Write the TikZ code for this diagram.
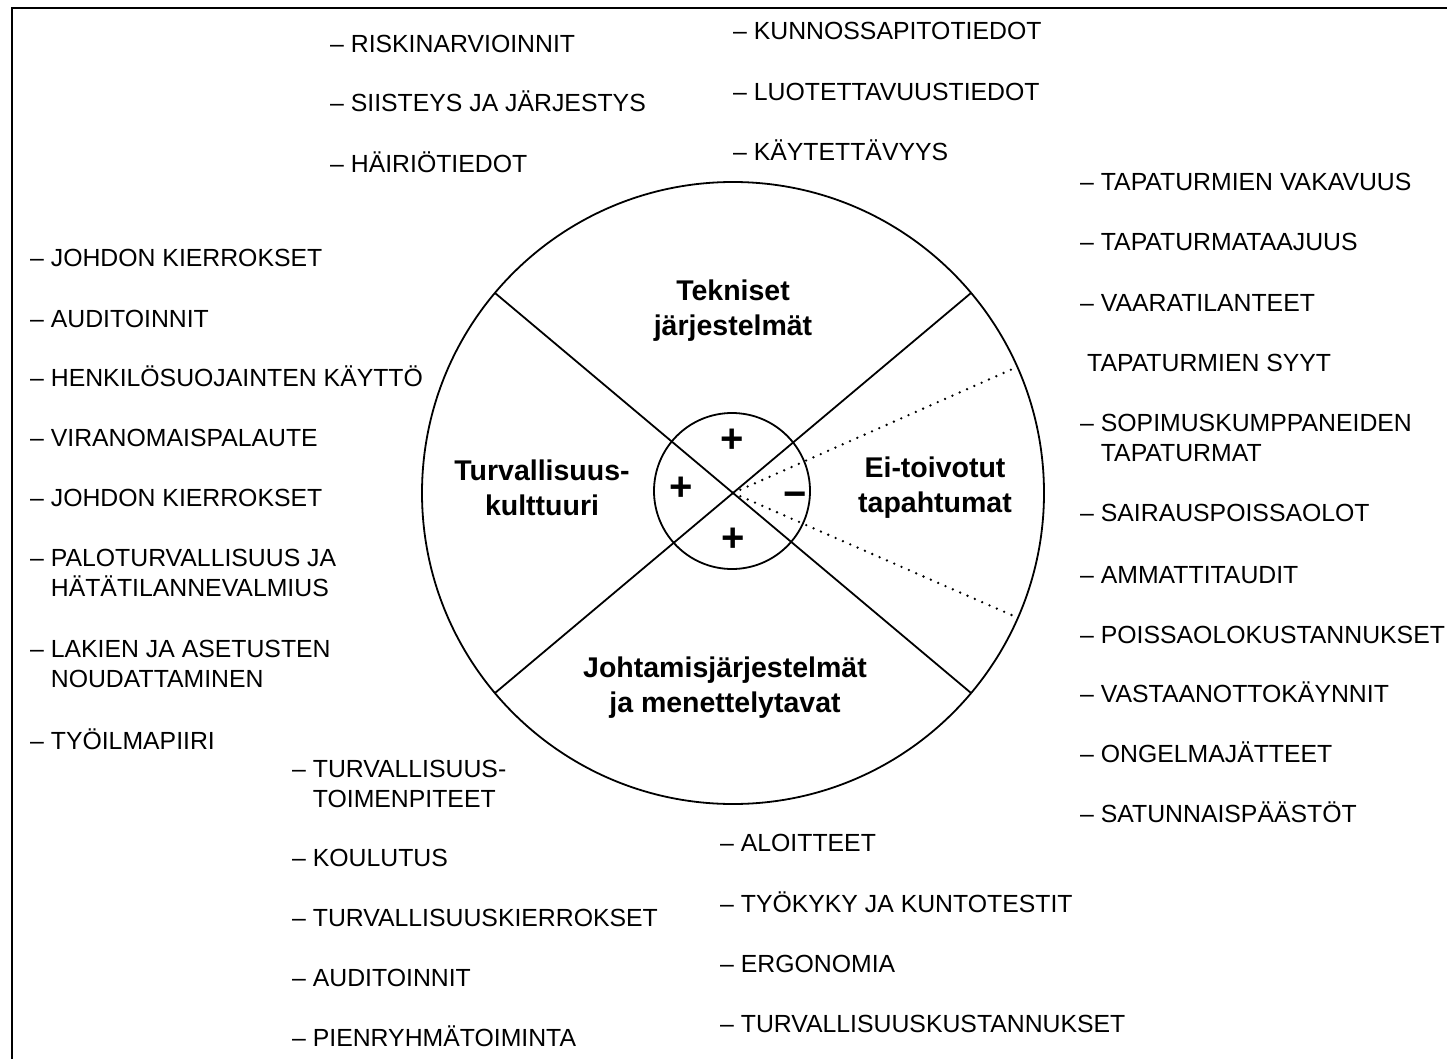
\documentclass[tikz,border=0pt]{standalone}
\usepackage{fontspec}
\setmainfont{Liberation Sans}
\newcommand{\listfont}{\fontsize{24.8}{30}\selectfont}
\newcommand{\sectorfont}{\fontsize{28.5}{35}\selectfont\bfseries}
\newcommand{\hangdash}{\phantom{– }}% indent of a second line

\begin{document}
\begin{tikzpicture}[x=1pt,y=-1pt,
  item/.style={anchor=base west,inner sep=0pt,align=left,font=\listfont},
  sector/.style={align=center,inner sep=0pt,font=\sectorfont},
  sign/.style={inner sep=0pt,font=\fontsize{40}{40}\selectfont\bfseries},
  wheel/.style={line width=1.8pt},
  dots/.style={line width=2.6pt,line cap=round,dash pattern=on 0pt off 8pt}]
  \useasboundingbox (0,0) rectangle (1447,1059);
  \clip (0,0) rectangle (1447,1059);
  \draw[line width=2.5pt] (12,8) rectangle (1480,1090);

  % wheel
  \coordinate (c) at (733,493);
  \coordinate (ci) at (732,491);
  \coordinate (nw) at (495,293);
  \coordinate (ne) at (971,293);
  \coordinate (sw) at (495,693);
  \coordinate (se) at (971,693);
  \coordinate (d1) at (1017,367);
  \coordinate (d2) at (1016,617);
  \draw[wheel] (c) circle (311);
  \draw[wheel] (nw) -- (se);
  \draw[wheel] (sw) -- (ne);
  \draw[wheel] (ci) circle (78);
  \draw[dots] (c) -- (d1);
  \draw[dots] (c) -- (d2);

  \node[sign] (ptop) at (732,441) {+};
  \node[sign] (pleft) at (681,489) {+};
  \node[sign] (pbot) at (733,540) {+};
  \node[sign] (mright) at (795,500) {−};

  \node[sector] (tek) at (733,311) {Tekniset\\järjestelmät};
  \node[sector] (tur) at (542,488) {Turvallisuus-\\kulttuuri};
  \node[sector] (eit) at (935,488) {Ei-toivotut\\tapahtumat};
  \node[sector] (joh) at (725,688) {Johtamisjärjestelmät\\ja menettelytavat};

  % lists (a two-line item sits on its last line)
  \foreach \n/\y/\t in {a1/53/RISKINARVIOINNIT,a2/112/SIISTEYS JA JÄRJESTYS,
      a3/173/HÄIRIÖTIEDOT}
    \node[item] (\n) at (330,\y) {– \t};
  \foreach \n/\y/\t in {b1/40/KUNNOSSAPITOTIEDOT,b2/101/LUOTETTAVUUSTIEDOT,
      b3/161/KÄYTETTÄVYYS}
    \node[item] (\n) at (733,\y) {– \t};
  \foreach \n/\y/\t in {c1/191/TAPATURMIEN VAKAVUUS,c2/251/TAPATURMATAAJUUS,
      c3/311/VAARATILANTEET,c5/461/{SOPIMUSKUMPPANEIDEN\\\hangdash TAPATURMAT},
      c6/521/SAIRAUSPOISSAOLOT,c7/583/AMMATTITAUDIT,
      c8/643/POISSAOLOKUSTANNUKSET,c9/702/VASTAANOTTOKÄYNNIT,
      c10/762/ONGELMAJÄTTEET,c11/822/SATUNNAISPÄÄSTÖT}
    \node[item] (\n) at (1080,\y) {– \t};
  \node[item] (c4) at (1087,371) {TAPATURMIEN SYYT};
  \foreach \n/\y/\t in {e1/266/JOHDON KIERROKSET,e2/327/AUDITOINNIT,
      e3/386/HENKILÖSUOJAINTEN KÄYTTÖ,e4/446/VIRANOMAISPALAUTE,
      e5/506/JOHDON KIERROKSET,
      e6/596/{PALOTURVALLISUUS JA\\\hangdash HÄTÄTILANNEVALMIUS},
      e7/687/{LAKIEN JA ASETUSTEN\\\hangdash NOUDATTAMINEN},
      e8/749/TYÖILMAPIIRI}
    \node[item] (\n) at (30,\y) {– \t};
  \foreach \n/\y/\t in {f1/807/{TURVALLISUUS-\\\hangdash TOIMENPITEET},
      f2/866/KOULUTUS,f3/926/TURVALLISUUSKIERROKSET,f4/986/AUDITOINNIT,
      f5/1046/PIENRYHMÄTOIMINTA}
    \node[item] (\n) at (292,\y) {– \t};
  \foreach \n/\y/\t in {g1/851/ALOITTEET,g2/912/TYÖKYKY JA KUNTOTESTIT,
      g3/972/ERGONOMIA,g4/1032/TURVALLISUUSKUSTANNUKSET}
    \node[item] (\n) at (720,\y) {– \t};
\end{tikzpicture}
\end{document}
